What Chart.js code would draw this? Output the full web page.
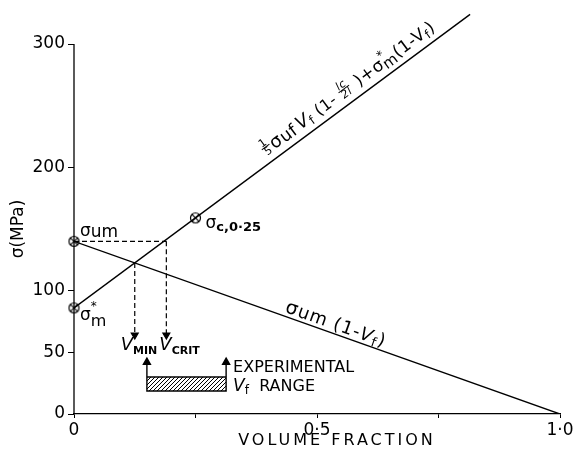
<!DOCTYPE html>
<html>
<head>
<meta charset="utf-8">
<script src="https://cdn.jsdelivr.net/npm/chart.js@4.4.1/dist/chart.umd.min.js"></script>
<style>
html, body { margin: 0; padding: 0; background: #fff; }
#wrap { width: 573px; height: 454px; }
</style>
</head>
<body>
<div id="wrap"><canvas id="chart" width="573" height="454"></canvas></div>
<script>
// ===============================
// DATA
// ===============================
const compositeX = [0, 0.815];          // 1/5 σuf Vf (1 - lc/2l) + σm*(1 - Vf)
const compositeY = [86, 324];
const matrixX = [0, 1.0];               // σum (1 - Vf)
const matrixY = [140, 0];
const markerX = [0, 0, 0.25];           // σum, σm*, σc,0.25
const markerY = [140, 86, 159];
const vMinX = 0.125, vMinY = 122.5;
const vCritX = 0.19, vCritY = 140;
const arrowFootY = 64;
const rangeX = [0.15, 0.313];
const rangeY = [18.7, 30];
const rangeArrowTopY = 42;
const yTicks = [0, 50, 100, 200, 300];
const xTicks = [0, 0.25, 0.5, 0.75, 1.0];
const xTickLabels = ["0", "", "0·5", "", "1·0"];

const FONT = "'DejaVu Sans', sans-serif";
const canvas = document.getElementById("chart");
const ctx = canvas.getContext("2d");

function pts(xs, ys) {
    return xs.map((x, i) => ({ x: x, y: ys[i] }));
}

// ===============================
// MARKER + HATCH PATTERN
// ===============================
function crossCircle() {
    const c = document.createElement("canvas");
    c.width = 13; c.height = 13;
    const g = c.getContext("2d");
    g.fillStyle = "#fff";
    g.beginPath(); g.arc(6.5, 6.5, 5, 0, Math.PI * 2); g.fill();
    g.strokeStyle = "#000"; g.lineWidth = 1.2; g.stroke();
    const d = 3.4;
    g.beginPath();
    g.moveTo(6.5 - d, 6.5 - d); g.lineTo(6.5 + d, 6.5 + d);
    g.moveTo(6.5 + d, 6.5 - d); g.lineTo(6.5 - d, 6.5 + d);
    g.stroke();
    return c;
}

function hatch() {
    const c = document.createElement("canvas");
    c.width = 4; c.height = 4;
    const g = c.getContext("2d");
    g.strokeStyle = "#000"; g.lineWidth = 1;
    g.beginPath();
    g.moveTo(-1, 5); g.lineTo(5, -1);
    g.stroke();
    return ctx.createPattern(c, "repeat");
}

// ===============================
// RICH TEXT HELPER
// ===============================
function rich(g, parts, x, y) {
    let cx = x;
    parts.forEach(p => {
        g.font = (p.italic ? "italic " : "") + (p.bold ? "bold " : "") + p.size + "px " + FONT;
        if (p.frac) {
            const w = Math.max(g.measureText(p.frac[0]).width, g.measureText(p.frac[1]).width) + 2;
            g.textAlign = "center";
            g.fillText(p.frac[0], cx + w / 2, y - p.size * 0.8);
            g.fillText(p.frac[1], cx + w / 2, y + 1);
            g.fillRect(cx, y - p.size * 0.7, w, 1);
            g.textAlign = "left";
            cx += w + 1;
            return;
        }
        g.fillText(p.t, cx, y + (p.dy || 0));
        if (!p.noAdvance) cx += g.measureText(p.t).width + (p.gap || 0);
    });
}

function along(g, x, y, angle, offset, parts, spacing) {
    g.save();
    g.translate(x, y);
    g.rotate(angle);
    g.letterSpacing = spacing || "0px";
    rich(g, parts, 0, -offset);
    g.restore();
}

// ===============================
// ANNOTATION PLUGIN
// ===============================
const annotations = {
    id: "annotations",
    afterDatasetsDraw(chart) {
        const g = chart.ctx;
        const xs = chart.scales.x, ys = chart.scales.y;
        const X = v => xs.getPixelForValue(v);
        const Y = v => ys.getPixelForValue(v);

        g.save();
        g.fillStyle = "#000";
        g.strokeStyle = "#000";
        g.textBaseline = "alphabetic";
        g.textAlign = "left";

        // y axis line, only up to 300
        g.lineWidth = 1.3;
        g.beginPath();
        g.moveTo(X(0), Y(0));
        g.lineTo(X(0), Y(300));
        g.stroke();

        // point labels
        rich(g, [{ t: "σ", size: 17 }, { t: "um", size: 17, dy: 1 }], X(0) + 6, Y(markerY[0]) - 5);
        rich(g, [{ t: "σ", size: 17 }, { t: "*", size: 12, dy: -10, noAdvance: true }, { t: "m", size: 16, dy: 6 }],
             X(0) + 6, Y(markerY[1]) + 12);
        rich(g, [{ t: "σ", size: 17 }, { t: "c,0·25", size: 13, bold: true, dy: 3 }],
             X(markerX[2]) + 10, Y(markerY[2]) + 10);

        // formula along rising line
        const a1 = Math.atan2(Y(compositeY[1]) - Y(compositeY[0]), X(compositeX[1]) - X(compositeX[0]));
        const fx = 0.405;
        const fy = compositeY[0] + (compositeY[1] - compositeY[0]) / compositeX[1] * fx;
        along(g, X(fx), Y(fy), a1, 8, [
            { frac: ["1", "5"], size: 11 },
            { t: "σ", size: 18 }, { t: "uf", size: 17, dy: 1, gap: 3 },
            { t: "V", size: 18, italic: true }, { t: "f", size: 12, dy: 3 },
            { t: " (1- ", size: 16 },
            { frac: ["lc", "2l"], size: 11, italic: true },
            { t: " )+σ", size: 17 }, { t: "*", size: 12, dy: -9, noAdvance: true }, { t: "m", size: 15, dy: 3 },
            { t: "(1-V", size: 17 }, { t: "f", size: 12, dy: 3 }, { t: ")", size: 17 }
        ], "0.5px");

        // label along falling line
        const a2 = Math.atan2(Y(matrixY[1]) - Y(matrixY[0]), X(matrixX[1]) - X(matrixX[0]));
        const mx = 0.43;
        const my = matrixY[0] + (matrixY[1] - matrixY[0]) * mx;
        along(g, X(mx), Y(my), a2, 4, [
            { t: "σ", size: 19 }, { t: "um (1-", size: 18 },
            { t: "V", size: 18, italic: true }, { t: "f", size: 13, dy: 3 }, { t: ")", size: 18 }
        ], "1px");

        // V_MIN, V_CRIT
        rich(g, [{ t: "V", size: 18, italic: true }, { t: "MIN", size: 11, bold: true, dy: 4 }],
             X(vMinX) - 14, Y(arrowFootY) + 15);
        rich(g, [{ t: "V", size: 18, italic: true }, { t: "CRIT", size: 11, bold: true, dy: 4 }],
             X(vCritX) - 7, Y(arrowFootY) + 15);

        // experimental range label
        rich(g, [{ t: "EXPERIMENTAL", size: 16 }], X(rangeX[1]) + 7, Y(rangeArrowTopY) + 10);
        rich(g, [{ t: "V", size: 17, italic: true }, { t: "f", size: 12, dy: 3 }, { t: "  RANGE", size: 16 }],
             X(rangeX[1]) + 7, Y(rangeArrowTopY) + 29);

        // axis titles
        g.save();
        g.translate(19, 229);
        g.rotate(-Math.PI / 2);
        g.textAlign = "center";
        g.textBaseline = "middle";
        g.font = "17px " + FONT;
        g.fillText("σ(MPa)", 0, 0);
        g.restore();

        g.font = "16px " + FONT;
        g.letterSpacing = "3px";
        g.textAlign = "center";
        g.fillText("VOLUME FRACTION", 337, 445);
        g.letterSpacing = "0px";

        g.restore();
    }
};

// ===============================
// CHART
// ===============================
const black = "#000";
const lineBase = { borderColor: black, borderWidth: 1.4, pointRadius: 0, showLine: true, fill: false, tension: 0 };
const arrowLine = {
    borderColor: black, borderWidth: 1.2, borderDash: [5, 3], showLine: true, fill: false,
    pointStyle: "triangle", pointRotation: 180, pointBackgroundColor: black, pointBorderColor: black,
    pointRadius: [0, 4], clip: false
};

new Chart(ctx, {
    type: "scatter",
    data: {
        datasets: [
            Object.assign({ data: pts(compositeX, compositeY) }, lineBase),
            Object.assign({ data: pts(matrixX, matrixY) }, lineBase),
            { data: [{ x: 0, y: vCritY }, { x: vCritX, y: vCritY }], borderColor: black, borderWidth: 1.2,
              borderDash: [5, 3], showLine: true, pointRadius: 0, fill: false },
            Object.assign({ data: [{ x: vMinX, y: vMinY }, { x: vMinX, y: arrowFootY }] }, arrowLine),
            Object.assign({ data: [{ x: vCritX, y: vCritY }, { x: vCritX, y: arrowFootY }] }, arrowLine),
            { data: [{ x: rangeX[0], y: rangeY[1] }, { x: rangeX[1], y: rangeY[1] }],
              borderColor: black, borderWidth: 1.3, showLine: true, pointRadius: 0,
              fill: { value: rangeY[0] }, backgroundColor: hatch() },
            { data: [{ x: rangeX[0], y: rangeArrowTopY }, { x: rangeX[0], y: rangeY[0] },
                     { x: rangeX[1], y: rangeY[0] }, { x: rangeX[1], y: rangeArrowTopY }],
              borderColor: black, borderWidth: 1.4, showLine: true, fill: false,
              pointStyle: "triangle", pointRadius: [4, 0, 0, 4],
              pointBackgroundColor: black, pointBorderColor: black },
            { data: pts(markerX, markerY), pointStyle: crossCircle(), pointRadius: 6, clip: false, showLine: false }
        ]
    },
    options: {
        responsive: false,
        animation: false,
        devicePixelRatio: 1,
        layout: { padding: { left: 0, right: 13, top: 0, bottom: 0 } },
        plugins: { legend: { display: false }, tooltip: { enabled: false } },
        scales: {
            x: {
                type: "linear", min: 0, max: 1,
                afterBuildTicks: s => { s.ticks = xTicks.map(v => ({ value: v })); },
                afterFit: s => { s.height = 40; s.paddingLeft = 0; s.paddingRight = 0; },
                border: { display: true, color: black, width: 1.3 },
                grid: { drawOnChartArea: false, tickLength: 4, color: black },
                ticks: {
                    color: black, font: { family: FONT, size: 17 }, padding: 2, maxRotation: 0,
                    callback: (v, i) => xTickLabels[i]
                }
            },
            y: {
                type: "linear", min: 0, max: 330,
                afterBuildTicks: s => { s.ticks = yTicks.map(v => ({ value: v })); },
                afterFit: s => { s.width = 74; s.paddingTop = 0; s.paddingBottom = 0; },
                border: { display: false },
                grid: { drawOnChartArea: false, tickLength: 6, color: black },
                ticks: { color: black, font: { family: FONT, size: 17 }, padding: 3 }
            }
        }
    },
    plugins: [annotations]
});
</script>
</body>
</html>
